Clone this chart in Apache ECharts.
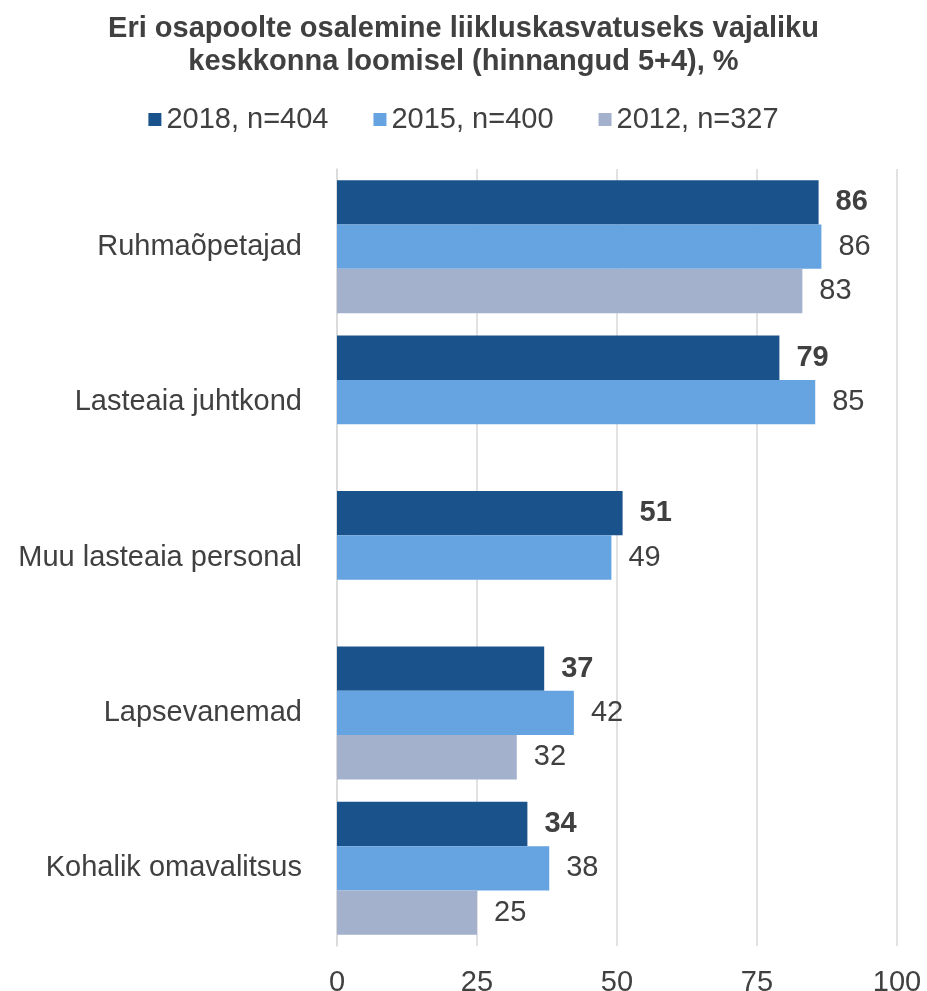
<!DOCTYPE html>
<html>
<head>
<meta charset="utf-8">
<script src="https://cdn.jsdelivr.net/npm/echarts@6/dist/echarts.min.js"></script>
<style>html,body{margin:0;padding:0;background:#fff}#c{width:927px;height:991px}</style>
</head>
<body>
<div id="c"></div>
<script>
const categories = ["Ruhmaõpetajad", "Lasteaia juhtkond", "Muu lasteaia personal", "Lapsevanemad", "Kohalik omavalitsus"];
const seriesNames = ["2018, n=404", "2015, n=400", "2012, n=327"];
const values2018 = [86, 79, 51, 37, 34];
const values2015 = [86.5, 85.4, 49, 42.3, 37.9];
const values2012 = [83.1, null, null, 32.1, 25];
const labels2018 = ["86", "79", "51", "37", "34"];
const labels2015 = ["86", "85", "49", "42", "38"];
const labels2012 = ["83", "", "", "32", "25"];
const xTicks = [0, 25, 50, 75, 100];

const colors = ["#1A538C", "#65A3E1", "#A3B1CD"];
const font = "'Liberation Sans', Arial, sans-serif";
const textColor = "#404040";
const fs = 29;

function mk(name, vals, labs, color, bold) {
  return {
    name: name,
    type: 'bar',
    data: vals.map(v => v === null ? '-' : v),
    barGap: '0%',
    barCategoryGap: '14.4%',
    itemStyle: { color: color },
    label: {
      show: true,
      position: 'right',
      distance: 17,
      fontFamily: font,
      fontSize: fs,
      fontWeight: bold ? 'bold' : 'normal',
      color: textColor,
      formatter: p => labs[p.dataIndex]
    }
  };
}

const chart = echarts.init(document.getElementById('c'));
chart.setOption({
  animation: false,
  title: {
    text: "Eri osapoolte osalemine liikluskasvatuseks vajaliku\nkeskkonna loomisel (hinnangud 5+4), %",
    left: 'center',
    top: 7,
    textStyle: { fontFamily: font, fontSize: fs, fontWeight: 'bold', color: textColor, lineHeight: 33 }
  },
  legend: {
    top: 100,
    left: 'center',
    itemWidth: 13,
    itemHeight: 13,
    itemGap: 45,
    icon: 'rect',
    textStyle: { fontFamily: font, fontSize: fs, color: textColor },
    data: seriesNames
  },
  grid: { left: 337, right: 30, top: 169, bottom: 45, containLabel: false, outerBoundsMode: 'none' },
  xAxis: {
    type: 'value',
    min: 0, max: 100, interval: 25,
    axisLine: { show: false },
    axisTick: { show: false },
    splitLine: { lineStyle: { color: '#D9D9D9', width: 1.5 } },
    axisLabel: {
      fontFamily: font, fontSize: fs, color: textColor, margin: 22,
      formatter: v => xTicks.includes(v) ? String(v) : ''
    }
  },
  yAxis: {
    type: 'category',
    inverse: true,
    data: categories,
    axisLine: { show: true, lineStyle: { color: '#D9D9D9', width: 1.5 } },
    axisTick: { show: false },
    axisLabel: { fontFamily: font, fontSize: fs, color: textColor, margin: 35 }
  },
  series: [
    mk(seriesNames[0], values2018, labels2018, colors[0], true),
    mk(seriesNames[1], values2015, labels2015, colors[1], false),
    mk(seriesNames[2], values2012, labels2012, colors[2], false)
  ]
});
</script>
</body>
</html>
